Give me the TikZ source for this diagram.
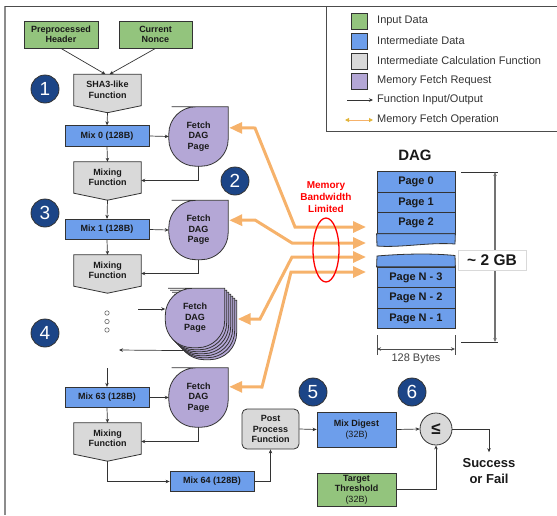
\documentclass[tikz,border=0pt]{standalone}
\usepackage{fontspec}
\setmainfont{Liberation Sans}
\usetikzlibrary{arrows.meta,backgrounds,calc}
\definecolor{cgreen}{HTML}{93C47D}
\definecolor{cblue}{HTML}{6D9EEB}
\definecolor{cgray}{HTML}{D9D9D9}
\definecolor{cpurple}{HTML}{B4A7D6}
\definecolor{corange}{HTML}{F6B26B}
\definecolor{cgold}{HTML}{E1B53A}
\definecolor{cnavy}{HTML}{1C4587}
\definecolor{cline}{HTML}{333333}
\newcommand\fnshape[1]{%
 \begin{pgfonlayer}{background}
 \draw[draw=cline,line width=0.8pt,fill=cgray] (#1.north west) -- (#1.north east) -- (#1.south east) -- ($(#1.south)+(0,7)$) -- (#1.south west) -- cycle;
 \end{pgfonlayer}}
\newcommand\fetchshape[2]{%
 \draw[draw=cline,line width=0.8pt,fill=cpurple] ([shift={(#1,#1)}]#2.north) -- ([shift={(#1,#1)}]#2.north east) -- ([shift={(#1,#1)}]#2.east) [rounded corners=27pt] -- ([shift={(#1,#1)}]#2.south east) -- ([shift={(#1,#1)}]#2.south west) -- ([shift={(#1,#1)}]#2.north west) -- cycle;}
\begin{document}
\begin{tikzpicture}[x=1pt,y=-1pt,
 every node/.style={text=black!90},
 bfont/.style={font=\fontsize{9}{10.5}\selectfont\bfseries},
 bx/.style={bfont,draw=cline,line width=0.8pt,inner sep=0pt,align=center},
 inp/.style={bx,fill=cgreen},
 mid/.style={bx,fill=cblue,minimum width=84pt,minimum height=20.5pt},
 fn/.style={bfont,inner sep=0pt,align=center,minimum width=67pt,minimum height=31pt},
 fetchn/.style={bfont,inner sep=0pt,align=center,minimum width=59pt,minimum height=59pt},
 num/.style={circle,fill=cnavy,draw=black!80,line width=0.8pt,minimum size=28pt,inner sep=0pt,text=white,font=\fontsize{19}{19}\selectfont},
 page/.style={draw=cline,line width=0.8pt,fill=cblue,minimum width=78pt,minimum height=20.5pt,inner sep=0pt,font=\fontsize{11}{11}\selectfont\bfseries},
 arr/.style={draw=cline,line width=0.7pt,-{Stealth[length=4pt,width=3.5pt]}},
 mem/.style={draw=corange,line width=3pt,{Triangle[length=13pt,width=11pt]}-{Triangle[length=13pt,width=11pt]}},
 leg/.style={anchor=west,inner sep=0pt,font=\fontsize{11}{11}\selectfont,text=black!80},
 sw/.style={draw=cline,line width=0.8pt,minimum size=16pt,inner sep=0pt}]
\useasboundingbox (0,0) rectangle (557,515);
% frame and legend box
\draw[black!45,line width=1.2pt] (5,6) -- (5,515);
\draw[black!70,line width=0.9pt] (5,6) -- (557,6);
\draw[black!70,line width=0.9pt] (326,6) -- (326,131) -- (557,131);
% legend
\node[sw,fill=cgreen] (l1) at (359,21) {};
\node[sw,fill=cblue] (l2) at (359,41) {};
\node[sw,fill=cgray] (l3) at (359,61) {};
\node[sw,fill=cpurple] (l4) at (359,81) {};
\node[leg] (t1) at (377,21) {Input Data};
\node[leg] (t2) at (377,41) {Intermediate Data};
\node[leg] (t3) at (377,61) {Intermediate Calculation Function};
\node[leg] (t4) at (377,81) {Memory Fetch Request};
\node[leg] (t5) at (377,100) {Function Input/Output};
\node[leg] (t6) at (377,120) {Memory Fetch Operation};
\coordinate (la) at (347,100);
\coordinate (lb) at (345,120);
\draw[arr] (la) -- ([xshift=-4pt]t5.west);
\draw[draw=corange,line width=1pt,{Triangle[length=4pt,width=4pt,color=cgold]}-{Triangle[length=4pt,width=4pt,color=cgold]}] (lb) -- ([xshift=-4pt]t6.west);
% inputs
\node[inp,minimum width=74pt,minimum height=27pt] (pre) at (61,34.5) {Preprocessed\\Header};
\node[inp,minimum width=73pt,minimum height=27pt] (nonce) at (155.5,34.5) {Current\\Nonce};
\node[fn] (sha) at (107.5,90) {SHA3-like\\Function}; \fnshape{sha}
\draw[arr] (pre.south) -- ($(sha.north)+(-2,0)$);
\draw[arr] (nonce.south) -- ($(sha.north)+(2,0)$);
\node[num] (n1) at (45,89) {1};
% round 0
\node[mid] (mix0) at (107,136) {Mix 0 (128B)};
\node[fetchn] (f0) at (198.5,136.5) {Fetch\\DAG\\Page};
\begin{pgfonlayer}{background}\fetchshape{0}{f0}\end{pgfonlayer}
\node[fn] (mixA) at (107.5,177.5) {Mixing\\Function}; \fnshape{mixA}
\coordinate (shaT) at ($(sha.south)+(0,7)$);
\draw[arr] (shaT) -- (mix0.north);
\draw[arr] (mix0.east) -- (f0.west);
\draw[arr] (mix0.south) -- (mixA.north);
\draw[arr] (f0.south) |- ($(mixA.east)+(0,3)$);
\node[num] (n2) at (235,181) {2};
\node[num] (n3) at (45,213) {3};
% round 1
\node[mid] (mix1) at (107,229.5) {Mix 1 (128B)};
\node[fetchn] (f1) at (198.5,230) {Fetch\\DAG\\Page};
\begin{pgfonlayer}{background}\fetchshape{0}{f1}\end{pgfonlayer}
\node[fn] (mixB) at (107.5,270.5) {Mixing\\Function}; \fnshape{mixB}
\coordinate (mixAT) at ($(mixA.south)+(0,7)$);
\draw[arr] (mixAT) -- (mix1.north);
\draw[arr] (mix1.east) -- (f1.west);
\draw[arr] (mix1.south) -- (mixB.north);
\draw[arr] (f1.south) |- ($(mixB.east)+(0,3)$);
% dots and stacked
\draw[black!60,fill=white,line width=0.6pt] (107,313) circle (2.2) (107,321.5) circle (2.2) (107,330) circle (2.2);
\node[num] (n4) at (45,333) {4};
\node[fetchn] (fs) at (195,318) {Fetch\\DAG\\Page};
\coordinate (in4) at (138,309);
\coordinate (back4) at (119,350);
\begin{pgfonlayer}{background}
\draw[arr] ($(fs.south)+(0,3)$) -- (back4);
\foreach \i in {12,10,8,6,4,2,0} {\fetchshape{\i}{fs}}
\end{pgfonlayer}
\draw[arr] (in4) -- (in4 -| fs.west);
% round 63
\coordinate (c63) at (107,368);
\node[mid] (mix63) at (107,397.5) {Mix 63 (128B)};
\node[fetchn] (f63) at (198.5,397.5) {Fetch\\DAG\\Page};
\begin{pgfonlayer}{background}\fetchshape{0}{f63}\end{pgfonlayer}
\node[fn] (mixC) at (107.5,438.5) {Mixing\\Function}; \fnshape{mixC}
\draw[arr] (c63) -- (mix63.north);
\draw[arr] (mix63.east) -- (f63.west);
\draw[arr] (mix63.south) -- (mixC.north);
\draw[arr] (f63.south) |- ($(mixC.east)+(0,3)$);
\node[mid] (mix64) at (212,481.5) {Mix 64 (128B)};
\coordinate (mixCT) at ($(mixC.south)+(0,7)$);
\draw[arr] (mixCT) |- (mix64.west);
% post processing
\node[bx,fill=cgray,rounded corners=5pt,minimum width=57pt,minimum height=40pt] (post) at (270.5,429) {Post\\Process\\Function};
\draw[arr] (mix64.east) -| (post.south);
\node[bx,fill=cblue,minimum width=79pt,minimum height=35pt] (digest) at (356.5,429.5) {Mix Digest\\\mdseries(32B)};
\node[bx,fill=cgreen,minimum width=79pt,minimum height=33pt] (target) at (356.5,489.5) {Target\\Threshold\\\mdseries(32B)};
\node[circle,draw=cline,line width=0.8pt,fill=cgray,minimum size=32pt,inner sep=0pt,font=\fontsize{17}{17}\selectfont\bfseries] (cmp) at (436,429) {≤};
\node[align=center,inner sep=0pt,font=\fontsize{13}{16}\selectfont\bfseries] (succ) at (489,471) {Success\\or Fail};
\draw[arr] (post.east) -- (digest.west);
\draw[arr] (digest.east) -- (cmp.west);
\draw[arr] (target.east) -| (cmp.south);
\draw[arr] (cmp.east) -| ($(succ.north)+(0,-6)$);
\node[num] (n5) at (313,392) {5};
\node[num] (n6) at (412,392) {6};
% DAG
\node[font=\fontsize{15}{15}\selectfont\bfseries,inner sep=0pt] (dag) at (415,155) {DAG};
\node[page] (p0) at (416,182) {Page 0};
\node[page] (p1) at (416,202.5) {Page 1};
\node[page] (p2) at (416,223) {Page 2};
\draw[draw=cline,line width=0.8pt,fill=cblue] (p2.south west) -- (377,246) .. controls (400,248) and (430,242) .. (455,244) -- (p2.south east) -- cycle;
\node[page] (pn3) at (416,277.5) {Page N - 3};
\node[page] (pn2) at (416,298) {Page N - 2};
\node[page] (pn1) at (416,318.5) {Page N - 1};
\draw[draw=cline,line width=0.8pt,fill=cblue] (pn3.north west) -- (377,256) .. controls (400,254) and (430,253) .. (455,255.5) -- (pn3.north east) -- cycle;
% dimensions
\draw[black!80,line width=0.7pt] (461,172) -- (498,172) (461,342) -- (498,342);
\draw[black!55,line width=1.2pt,{Stealth[length=4pt,width=3.5pt]}-{Stealth[length=4pt,width=3.5pt]}] (495,172) -- (495,342);
\node[fill=white,draw=black!15,minimum width=68pt,minimum height=20pt,inner sep=0pt,font=\fontsize{15.5}{15.5}\selectfont\bfseries] (gb) at (492,260) {\textasciitilde{} 2 GB};
\draw[black!70,line width=0.7pt] (377,335) -- (377,355) (455,335) -- (455,355);
\draw[black!70,line width=0.7pt,{Stealth[length=4pt,width=3.5pt]}-{Stealth[length=4pt,width=3.5pt]}] (377,349) -- (455,349);
\node[font=\fontsize{11}{11}\selectfont,text=black!75,inner sep=0pt] (bytes) at (416,358.5) {128 Bytes};
% memory fetch operations
\coordinate (d1) at (366,227);
\coordinate (d2) at (366,243);
\coordinate (d3) at (366,257);
\coordinate (d4) at (366,272);
\draw[mem] ($(f0.north east)+(1,21)$) -- (255,128) -- (295,227) -- (d1);
\draw[mem] ($(f1.north east)+(1,20)$) -- (255,220) -- (292,243) -- (d2);
\draw[mem] ($(fs.east)+(13,1)$) -- (260,319) -- (292,257) -- (d3);
\draw[mem] ($(f63.north east)+(1,19)$) -- (262,387) -- (291,272) -- (d4);
\draw[red,line width=1.3pt] (326,250) ellipse (13 and 32);
\node[align=center,text=red,inner sep=0pt,font=\fontsize{10}{12}\selectfont\bfseries] (bw) at (326,197) {Memory\\Bandwidth\\Limited};
\end{tikzpicture}
\end{document}
